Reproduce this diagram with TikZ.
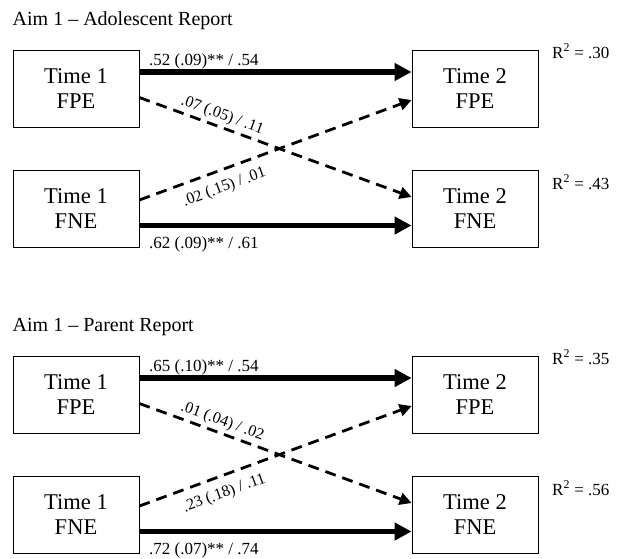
\documentclass[tikz,border=0pt]{standalone}
\usepackage{fontspec}
\setmainfont{Liberation Serif}
\usetikzlibrary{arrows.meta}
\tikzset{
  var/.style={draw, line width=0.8pt, minimum width=126pt, minimum height=77pt,
    inner sep=0pt, align=center, font=\fontsize{22.5}{25}\selectfont},
  strong/.style={line width=5.5pt, -{Triangle[length=17pt,width=17pt]}},
  cross/.style={line width=2.8pt, dash pattern=on 11pt off 7pt,
    -{Triangle[length=12pt,width=12pt]}},
  coef/.style={font=\fontsize{17}{20}\selectfont, inner sep=0pt},
  slopedcoef/.style={font=\fontsize{16}{19}\selectfont, sloped},
  heading/.style={font=\fontsize{20}{24}\selectfont, anchor=base west, inner sep=0pt},
}
\begin{document}
\begin{tikzpicture}[x=1pt,y=-1pt]
\useasboundingbox (0,0) rectangle (617,558);

% Adolescent report
\begin{scope}
  \node[heading] (ha) at (12.5,25) {Aim 1 – Adolescent Report};
  \node[var] (a1) at (76,88.5) {Time 1\\FPE};
  \node[var] (a2) at (475,88.5) {Time 2\\FPE};
  \node[var] (a3) at (76,208.5) {Time 1\\FNE};
  \node[var] (a4) at (475,208.5) {Time 2\\FNE};
  \draw[strong] ([yshift=16.5pt]a1.east) --
    node[coef, pos=0, anchor=base west, xshift=7pt, yshift=7pt] (ca1) {.52 (.09)** / .54}
    ([yshift=16.5pt]a2.west);
  \draw[strong] ([yshift=-17pt]a3.east) --
    node[coef, pos=0, anchor=base west, xshift=7pt, yshift=-22.5pt] (ca2) {.62 (.09)** / .61}
    ([yshift=-17pt]a4.west);
  \draw[cross] ([yshift=-9pt]a1.east) --
    node[slopedcoef, pos=0.29, anchor=south, inner sep=3pt] (ca3) {.07 (.05) / .11}
    ([yshift=11.5pt]a4.west);
  \draw[cross] ([yshift=8.5pt]a3.east) --
    node[slopedcoef, pos=0.29, anchor=north, inner sep=9pt] (ca4) {.02 (.15) / .01}
    ([yshift=-11.5pt]a2.west);
  \node[coef, anchor=base west] (ra2) at (552,58) {R\textsuperscript{2} = .30};
  \node[coef, anchor=base west] (ra4) at (552,189) {R\textsuperscript{2} = .43};
\end{scope}

% Parent report
\begin{scope}[shift={(0,306)}]
  \node[heading] (hp) at (12.5,25) {Aim 1 – Parent Report};
  \node[var] (p1) at (76,88.5) {Time 1\\FPE};
  \node[var] (p2) at (475,88.5) {Time 2\\FPE};
  \node[var] (p3) at (76,208.5) {Time 1\\FNE};
  \node[var] (p4) at (475,208.5) {Time 2\\FNE};
  \draw[strong] ([yshift=16.5pt]p1.east) --
    node[coef, pos=0, anchor=base west, xshift=7pt, yshift=7pt] (cp1) {.65 (.10)** / .54}
    ([yshift=16.5pt]p2.west);
  \draw[strong] ([yshift=-17pt]p3.east) --
    node[coef, pos=0, anchor=base west, xshift=7pt, yshift=-22.5pt] (cp2) {.72 (.07)** / .74}
    ([yshift=-17pt]p4.west);
  \draw[cross] ([yshift=-9pt]p1.east) --
    node[slopedcoef, pos=0.29, anchor=south, inner sep=3pt] (cp3) {.01 (.04) / .02}
    ([yshift=11.5pt]p4.west);
  \draw[cross] ([yshift=8.5pt]p3.east) --
    node[slopedcoef, pos=0.29, anchor=north, inner sep=9pt] (cp4) {.23 (.18) / .11}
    ([yshift=-11.5pt]p2.west);
  \node[coef, anchor=base west] (rp2) at (552,58) {R\textsuperscript{2} = .35};
  \node[coef, anchor=base west] (rp4) at (552,189) {R\textsuperscript{2} = .56};
\end{scope}
\end{tikzpicture}
\end{document}
